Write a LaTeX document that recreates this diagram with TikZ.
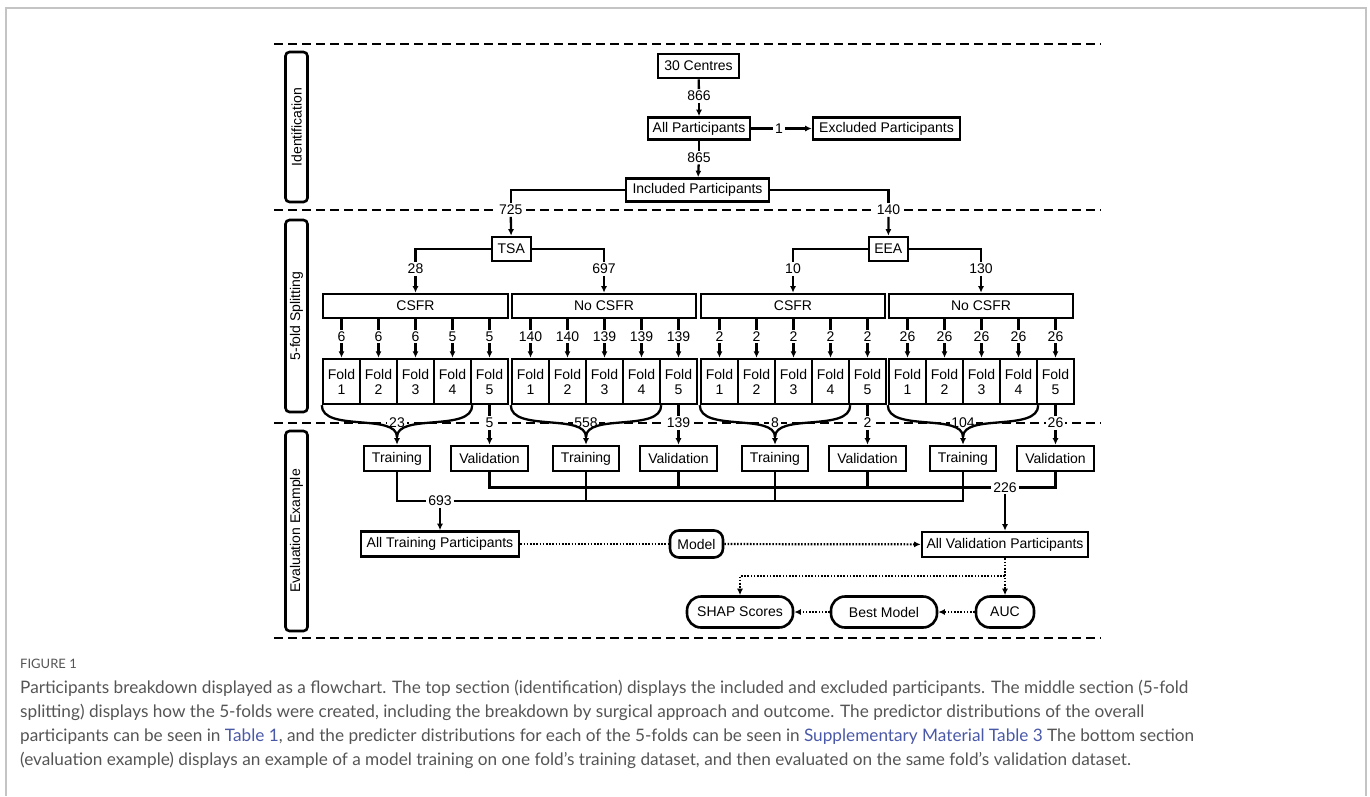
\documentclass[tikz,border=0pt]{standalone}
\usepackage{fontspec}
\setmainfont{Liberation Sans}
\newfontfamily\capfont{Lato}
\usetikzlibrary{arrows.meta,calc}
\definecolor{capgray}{HTML}{555555}
\definecolor{linkblue}{HTML}{4A58A8}
\definecolor{framegray}{HTML}{C4C4C4}
\begin{document}
\begin{tikzpicture}[x=1pt,y=-1pt,
  every node/.style={font=\fontsize{14}{15}\selectfont},
  box/.style={draw, line width=2.6pt, inner sep=0pt, minimum height=24pt},
  rbox/.style={box, rounded corners=11pt},
  sidebox/.style={draw, line width=2.6pt, rounded corners=4pt, inner sep=0pt, minimum height=22pt, rotate=90},
  foldbox/.style={draw, line width=2.4pt, inner sep=0pt, minimum width=37pt, minimum height=45pt, align=center, font=\fontsize{14}{15}\selectfont},
  lbl/.style={fill=white, inner sep=1.8pt},
  conn/.style={line width=2.3pt},
  arr/.style={conn, -{Latex[length=6.5pt,width=6pt]}},
  dotl/.style={line width=2.2pt, dash pattern=on 1.6pt off 1.6pt},
  dotarr/.style={dotl, -{Latex[length=6.5pt,width=6pt]}},
  dashline/.style={line width=2.6pt, dash pattern=on 9pt off 5pt},
  capline/.style={anchor=base west, inner sep=0pt, text=capgray, font=\capfont\fontsize{17.2}{20}\selectfont}
]
\useasboundingbox (0,0) rectangle (1370,796);
% frame
\draw[framegray, line width=1.3pt] (6,796) -- (6,8) -- (1366,8) -- (1366,796);

% section separators
\draw[dashline] (274,44) -- (1101,44);
\draw[dashline] (274,210) -- (1101,210);
\draw[dashline] (274,423) -- (1101,423);
\draw[dashline] (274,638) -- (1101,638);

% side labels
\node[sidebox, minimum width=150pt] (sid1) at (296.5,127) {Identification};
\node[sidebox, minimum width=192pt] (sid2) at (296.5,316) {5-fold Splitting};
\node[sidebox, minimum width=200pt] (sid3) at (296.5,531) {Evaluation Example};

% identification
\node[box, minimum width=81pt] (c30) at (698.5,66) {30 Centres};
\node[box, minimum width=102pt, minimum height=22pt] (allp) at (699,128.5) {All Participants};
\node[box, minimum width=147pt, minimum height=22pt] (excl) at (886.5,128.5) {Excluded Participants};
\node[box, minimum width=143pt, minimum height=23pt] (incl) at (697.5,190) {Included Participants};
\node[lbl] (n866) at (699,96) {866};
\node[lbl] (n865) at (699,157.5) {865};
\node[lbl] (n1) at (779,128.5) {1};
\node[lbl] (n725) at (510.7,210) {725};
\node[lbl] (n140) at (888.5,210) {140};
\draw[conn] (c30) -- (n866);
\draw[arr] (n866) -- (allp);
\draw[conn] (allp) -- (n1);
\draw[arr] (n1) -- (excl);
\draw[conn] (allp) -- (n865);
\draw[arr] (n865) -- (incl);
\draw[conn] (incl.west) -| (n725);
\draw[conn] (incl.east) -| (n140);

% approaches
\node[box, minimum width=39pt] (tsa) at (511.3,249) {TSA};
\node[box, minimum width=39pt] (eea) at (888.3,249) {EEA};
\draw[arr] (n725) -- (tsa);
\draw[arr] (n140) -- (eea);
\node[box, minimum width=185pt] (hA) at (415.5,306) {CSFR};
\node[box, minimum width=184pt] (hB) at (604,306) {No CSFR};
\node[box, minimum width=184pt] (hC) at (793,306) {CSFR};
\node[box, minimum width=184pt] (hD) at (981,306) {No CSFR};
\node[lbl] (m28) at (415.5,269) {28};
\node[lbl] (m697) at (604,269) {697};
\node[lbl] (m10) at (793,269) {10};
\node[lbl] (m130) at (981,269) {130};
\draw[conn] (tsa.west) -| (m28);
\draw[conn] (tsa.east) -| (m697);
\draw[conn] (eea.west) -| (m10);
\draw[conn] (eea.east) -| (m130);
\draw[arr] (m28) -- (hA);
\draw[arr] (m697) -- (hB);
\draw[arr] (m10) -- (hC);
\draw[arr] (m130) -- (hD);

% folds
\foreach \g/\L/\a/\b/\c/\d/\e in {A/323/6/6/6/5/5, B/512/140/140/139/139/139, C/701/2/2/2/2/2, D/889/26/26/26/26/26}{
  \foreach \i/\n in {1/\a,2/\b,3/\c,4/\d,5/\e}{
    \node[foldbox] (f\g\i) at ({\L+18.5+37*(\i-1)},381.5) {Fold\\\i};
    \node[lbl] (n\g\i) at ({\L+18.5+37*(\i-1)},336.5) {\n};
    \draw[conn] (f\g\i |- h\g.south) -- (n\g\i);
    \draw[arr] (n\g\i) -- (f\g\i);
  }
}

% training / validation boxes
\foreach \g/\L/\s/\v in {A/323/23/5, B/512/558/139, C/701/8/2, D/889/104/26}{
  \node[box, minimum width=66pt, minimum height=25pt] (t\g) at ({\L+74},458.5) {Training};
  \node[box, minimum width=77pt, minimum height=25pt] (v\g) at ({\L+166.5},458.5) {Validation};
  \node[lbl] (s\g) at ({\L+74},423) {\s};
  \node[lbl] (w\g) at ({\L+166.5},423) {\v};
  \coordinate (j\g) at ({\L+74},437);
  \draw[conn] (f\g1.south west) .. controls +(0,27) and +(0,-24) .. (j\g);
  \draw[conn] (f\g4.south east) .. controls +(0,27) and +(0,-24) .. (j\g);
  \draw[arr] (j\g) -- (t\g.north);
  \draw[conn] (f\g5) -- (w\g);
  \draw[arr] (w\g) -- (v\g);
}

% collection
\node[lbl] (n226) at (1005,487.5) {226};
\node[lbl] (n693) at (440,501) {693};
\draw[conn] (vA.south) |- (n226.west);
\draw[conn] (vB.south) -- (vB.south |- n226);
\draw[conn] (vC.south) -- (vC.south |- n226);
\draw[conn] (vD.south) |- (n226.east);
\draw[conn] (tA.south) |- (n693.west);
\draw[conn] (n693.east) -| (tD.south);
\draw[conn] (tB.south) -- (tB.south |- n693);
\draw[conn] (tC.south) -- (tC.south |- n693);

\node[box, minimum width=158pt, minimum height=25pt] (allt) at (440,544) {All Training Participants};
\node[box, rounded corners=9pt, minimum width=53pt, minimum height=27pt] (model) at (696.5,544) {Model};
\node[box, minimum width=166pt, minimum height=25pt] (allv) at (1005,544.5) {All Validation Participants};
\draw[arr] (n693) -- (allt);
\draw[arr] (n226) -- (allv);
\draw[dotl] (allt) -- (model);
\draw[dotarr] (model) -- (allv);

\node[rbox, rounded corners=14pt, minimum width=106pt, minimum height=31pt] (shap) at (740,612) {SHAP Scores};
\node[rbox, rounded corners=14pt, minimum width=106pt, minimum height=31pt] (best) at (884,612) {Best Model};
\node[rbox, rounded corners=14pt, minimum width=58pt, minimum height=31pt] (auc) at (1005,612) {AUC};
\coordinate (split) at (1005,576);
\draw[dotarr] (allv.south) -- (auc);
\draw[dotarr] (split) -| (shap.north);
\draw[dotarr] (auc) -- (best);
\draw[dotarr] (best) -- (shap);

% caption
\node[capline, font=\capfont\fontsize{13}{15}\selectfont] (figlbl) at (20,668) {FIGURE 1};
\node[capline] (cap1) at (20,693) {Participants breakdown displayed as a flowchart. The top section (identification) displays the included and excluded participants. The middle section (5-fold};
\node[capline] (cap2) at (20,717) {splitting) displays how the 5-folds were created, including the breakdown by surgical approach and outcome. The predictor distributions of the overall};
\node[capline] (cap3) at (20,741) {participants can be seen in \textcolor{linkblue}{Table 1}, and the predicter distributions for each of the 5-folds can be seen in \textcolor{linkblue}{Supplementary Material Table 3} The bottom section};
\node[capline] (cap4) at (20,765) {(evaluation example) displays an example of a model training on one fold’s training dataset, and then evaluated on the same fold’s validation dataset.};
\end{tikzpicture}
\end{document}
